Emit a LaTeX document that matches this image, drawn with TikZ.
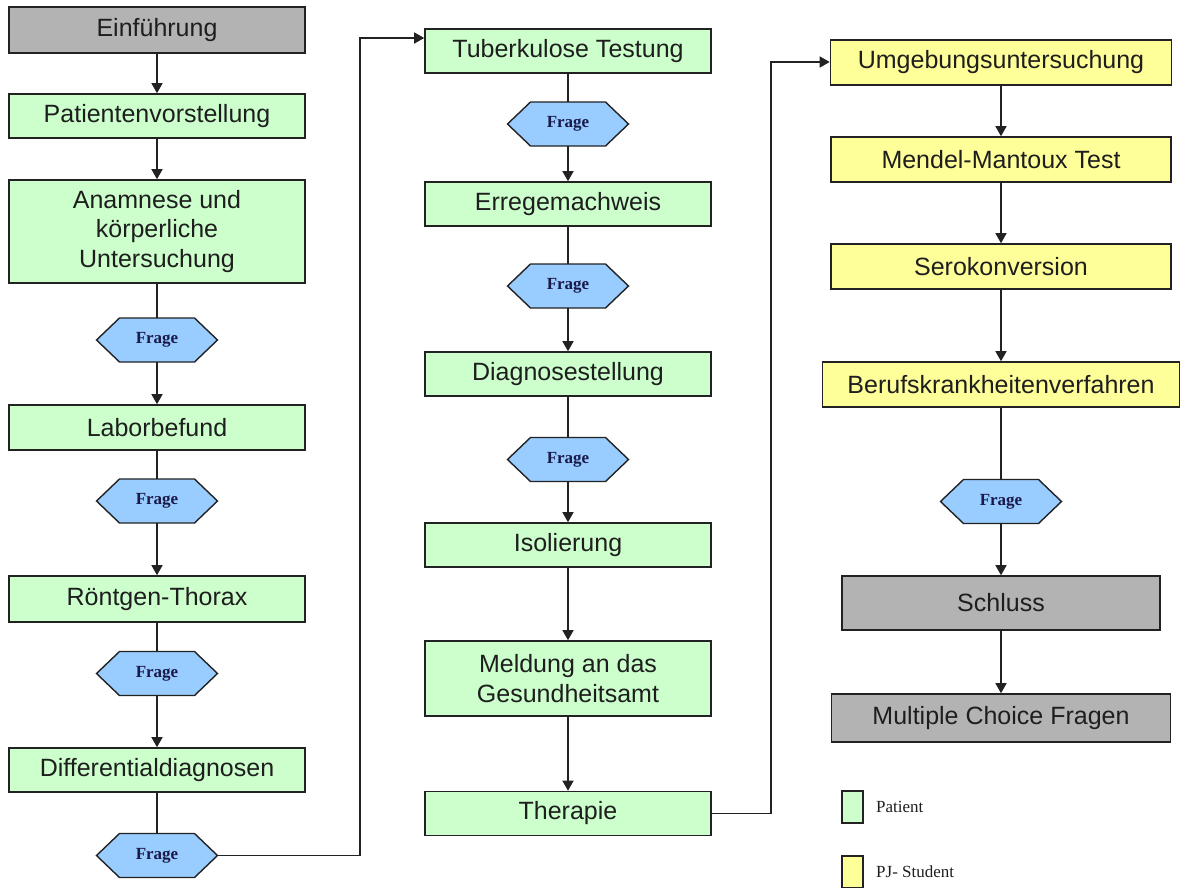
\documentclass[tikz,border=0pt]{standalone}
\usepackage{fontspec}
\setmainfont{Liberation Sans}
\newfontfamily\serifface{Liberation Serif}
\usetikzlibrary{arrows.meta}
\definecolor{boxgray}{HTML}{B3B3B3}
\definecolor{boxgreen}{HTML}{CCFFCC}
\definecolor{boxyellow}{HTML}{FFFF99}
\definecolor{frageblue}{HTML}{99CCFF}
\definecolor{edgecol}{HTML}{222222}
\definecolor{txtcol}{HTML}{1E1E1E}
\definecolor{fragetxt}{HTML}{1A1A4A}
\newcommand\fragehex[3]{%
  \filldraw[fill=frageblue,draw=edgecol,line width=1.4pt]
    (#2-60.5,#3) -- (#2-37.5,#3-22) -- (#2+37.5,#3-22) -- (#2+60.5,#3)
    -- (#2+37.5,#3+22) -- (#2-37.5,#3+22) -- cycle;
  \node[fragetext] (#1) at (#2,#3) {Frage};}
\begin{document}
\begin{tikzpicture}[x=1pt,y=-1pt,
  box/.style={draw=edgecol, line width=1.6pt, inner sep=0pt, align=center,
    font=\fontsize{25}{29.5}\selectfont, text=txtcol, minimum height=44pt},
  c1box/.style={box, fill=boxgreen, minimum width=296pt},
  c2box/.style={box, fill=boxgreen, minimum width=286pt},
  c3box/.style={box, fill=boxyellow, minimum width=340pt},
  graybox/.style={box, fill=boxgray},
  fragetext/.style={minimum width=121pt, minimum height=44pt, inner sep=0pt,
    font=\serifface\bfseries\fontsize{17}{19}\selectfont, text=fragetxt},
  arr/.style={draw=edgecol, line width=1.4pt, -{Triangle[width=11pt,length=10pt]}},
  ln/.style={draw=edgecol, line width=1.4pt},
  legbox/.style={draw=edgecol, line width=1.4pt, inner sep=0pt, minimum width=21pt, minimum height=32pt},
  legtext/.style={anchor=west, inner sep=0pt, font=\serifface\fontsize{17}{19}\selectfont, text=txtcol}
]
\useasboundingbox (0,0) rectangle (1180,887);

% ---------- column 1 ----------
\node[graybox, minimum width=296pt, minimum height=46pt] (intro) at (157,30) {Einführung};
\node[c1box] (pv) at (157,116) {Patientenvorstellung};
\node[c1box, minimum height=103pt] (anam) at (157,231.5) {Anamnese und\\körperliche\\Untersuchung};
\fragehex{fa}{157}{340}
\node[c1box, minimum height=45pt] (labor) at (157,427.5) {Laborbefund};
\fragehex{fb}{157}{501}
\node[c1box, minimum height=46pt] (roent) at (157,599) {Röntgen-Thorax};
\fragehex{fc}{157}{673.5}
\node[c1box] (diff) at (157,770) {Differentialdiagnosen};
\fragehex{fd}{157}{855.5}

\draw[arr] (intro) -- (pv);
\draw[arr] (pv) -- (anam);
\draw[ln] (anam) -- (fa);
\draw[arr] (fa) -- (labor);
\draw[ln] (labor) -- (fb);
\draw[arr] (fb) -- (roent);
\draw[ln] (roent) -- (fc);
\draw[arr] (fc) -- (diff);
\draw[ln] (diff) -- (fd);

% ---------- column 2 ----------
\node[c2box] (tub) at (568,51) {Tuberkulose Testung};
\fragehex{ga}{568}{124}
\node[c2box] (erreg) at (568,204) {Erregemachweis};
\fragehex{gb}{568}{286}
\node[c2box] (diag) at (568,374) {Diagnosestellung};
\fragehex{gc}{568}{459.5}
\node[c2box] (isol) at (568,545) {Isolierung};
\node[c2box, minimum height=75pt] (meld) at (568,678.5) {Meldung an das\\Gesundheitsamt};
\node[c2box] (ther) at (568,813.5) {Therapie};

\coordinate (k1) at (360,38);
\draw[arr] (fd.east) -| (k1) -- (k1 -| tub.west);
\draw[ln] (tub) -- (ga);
\draw[arr] (ga) -- (erreg);
\draw[ln] (erreg) -- (gb);
\draw[arr] (gb) -- (diag);
\draw[ln] (diag) -- (gc);
\draw[arr] (gc) -- (isol);
\draw[arr] (isol) -- (meld);
\draw[arr] (meld) -- (ther);

% ---------- column 3 ----------
\node[c3box, minimum width=341pt, minimum height=45pt] (umg) at (1001,62.5) {Umgebungsuntersuchung};
\node[c3box, minimum height=45pt] (mendel) at (1001,159.5) {Mendel-Mantoux Test};
\node[c3box, minimum height=45pt] (sero) at (1001,266.5) {Serokonversion};
\node[c3box, minimum width=357pt, minimum height=45pt] (beruf) at (1001,384.5) {Berufskrankheitenverfahren};
\fragehex{ha}{1001}{501.5}
\node[graybox, minimum width=318pt, minimum height=54pt] (schluss) at (1001,603) {Schluss};
\node[graybox, minimum width=339pt, minimum height=48pt] (mc) at (1001,718) {Multiple Choice Fragen};

\coordinate (k2) at (771,62);
\draw[arr] (ther.east) -| (k2) -- (k2 -| umg.west);
\draw[arr] (umg) -- (mendel);
\draw[arr] (mendel) -- (sero);
\draw[arr] (sero) -- (beruf);
\draw[ln] (beruf) -- (ha);
\draw[arr] (ha) -- (schluss);
\draw[arr] (schluss) -- (mc);

% ---------- legend ----------
\node[legbox, fill=boxgreen] (lg1) at (852.5,807) {};
\node[legtext] (lt1) at (876,807) {Patient};
\node[legbox, fill=boxyellow] (lg2) at (852.5,872) {};
\node[legtext] (lt2) at (876,872) {PJ- Student};
\end{tikzpicture}
\end{document}
